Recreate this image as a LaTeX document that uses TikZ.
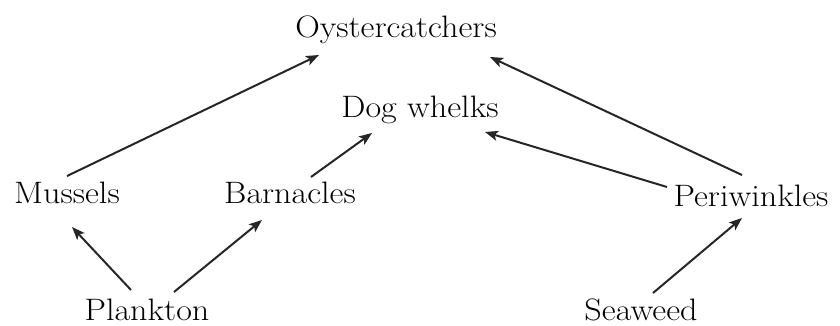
\documentclass[tikz,border=0pt]{standalone}
\usepackage{tikz}
\usetikzlibrary{calc,arrows.meta}

\begin{document}
\begin{tikzpicture}[x=1pt,y=1pt,every node/.style={anchor=base,inner sep=0pt,xscale=1.1,font=\fontsize{31}{37}\selectfont},feeds/.style={-{Stealth[length=13pt,width=10pt,inset=3pt]},line width=2pt,draw=black!85}]
\useasboundingbox (0,0) rectangle (840,325);
\node (Oystercatchers) at (396,288) {Oystercatchers};
\node (DogWhelks) at (420,208) {Dog whelks};
\node (Mussels) at (67,122) {Mussels};
\node (Barnacles) at (290,122) {Barnacles};
\node (Periwinkles) at (751,119) {Periwinkles};
\node (Plankton) at (147,5) {Plankton};
\node (Seaweed) at (641,5) {Seaweed};
\draw [feeds] ($(Mussels.base) + (0,27)$) -- ($(Oystercatchers.base) + (-77,-18)$);
\draw [feeds] ($(Barnacles.base) + (21,26)$) -- ($(DogWhelks.base) + (-48,-16)$);
\draw [feeds] ($(Periwinkles.base) + (-84,19)$) -- ($(DogWhelks.base) + (65,-15)$);
\draw [feeds] ($(Periwinkles.base) + (-9,31)$) -- ($(Oystercatchers.base) + (94,-20)$);
\draw [feeds] ($(Plankton.base) + (-16,30)$) -- ($(Mussels.base) + (5,-24)$);
\draw [feeds] ($(Plankton.base) + (27,28)$) -- ($(Barnacles.base) + (-28,-17)$);
\draw [feeds] ($(Seaweed.base) + (12,27)$) -- ($(Periwinkles.base) + (-9,-12)$);
\end{tikzpicture}
\end{document}
